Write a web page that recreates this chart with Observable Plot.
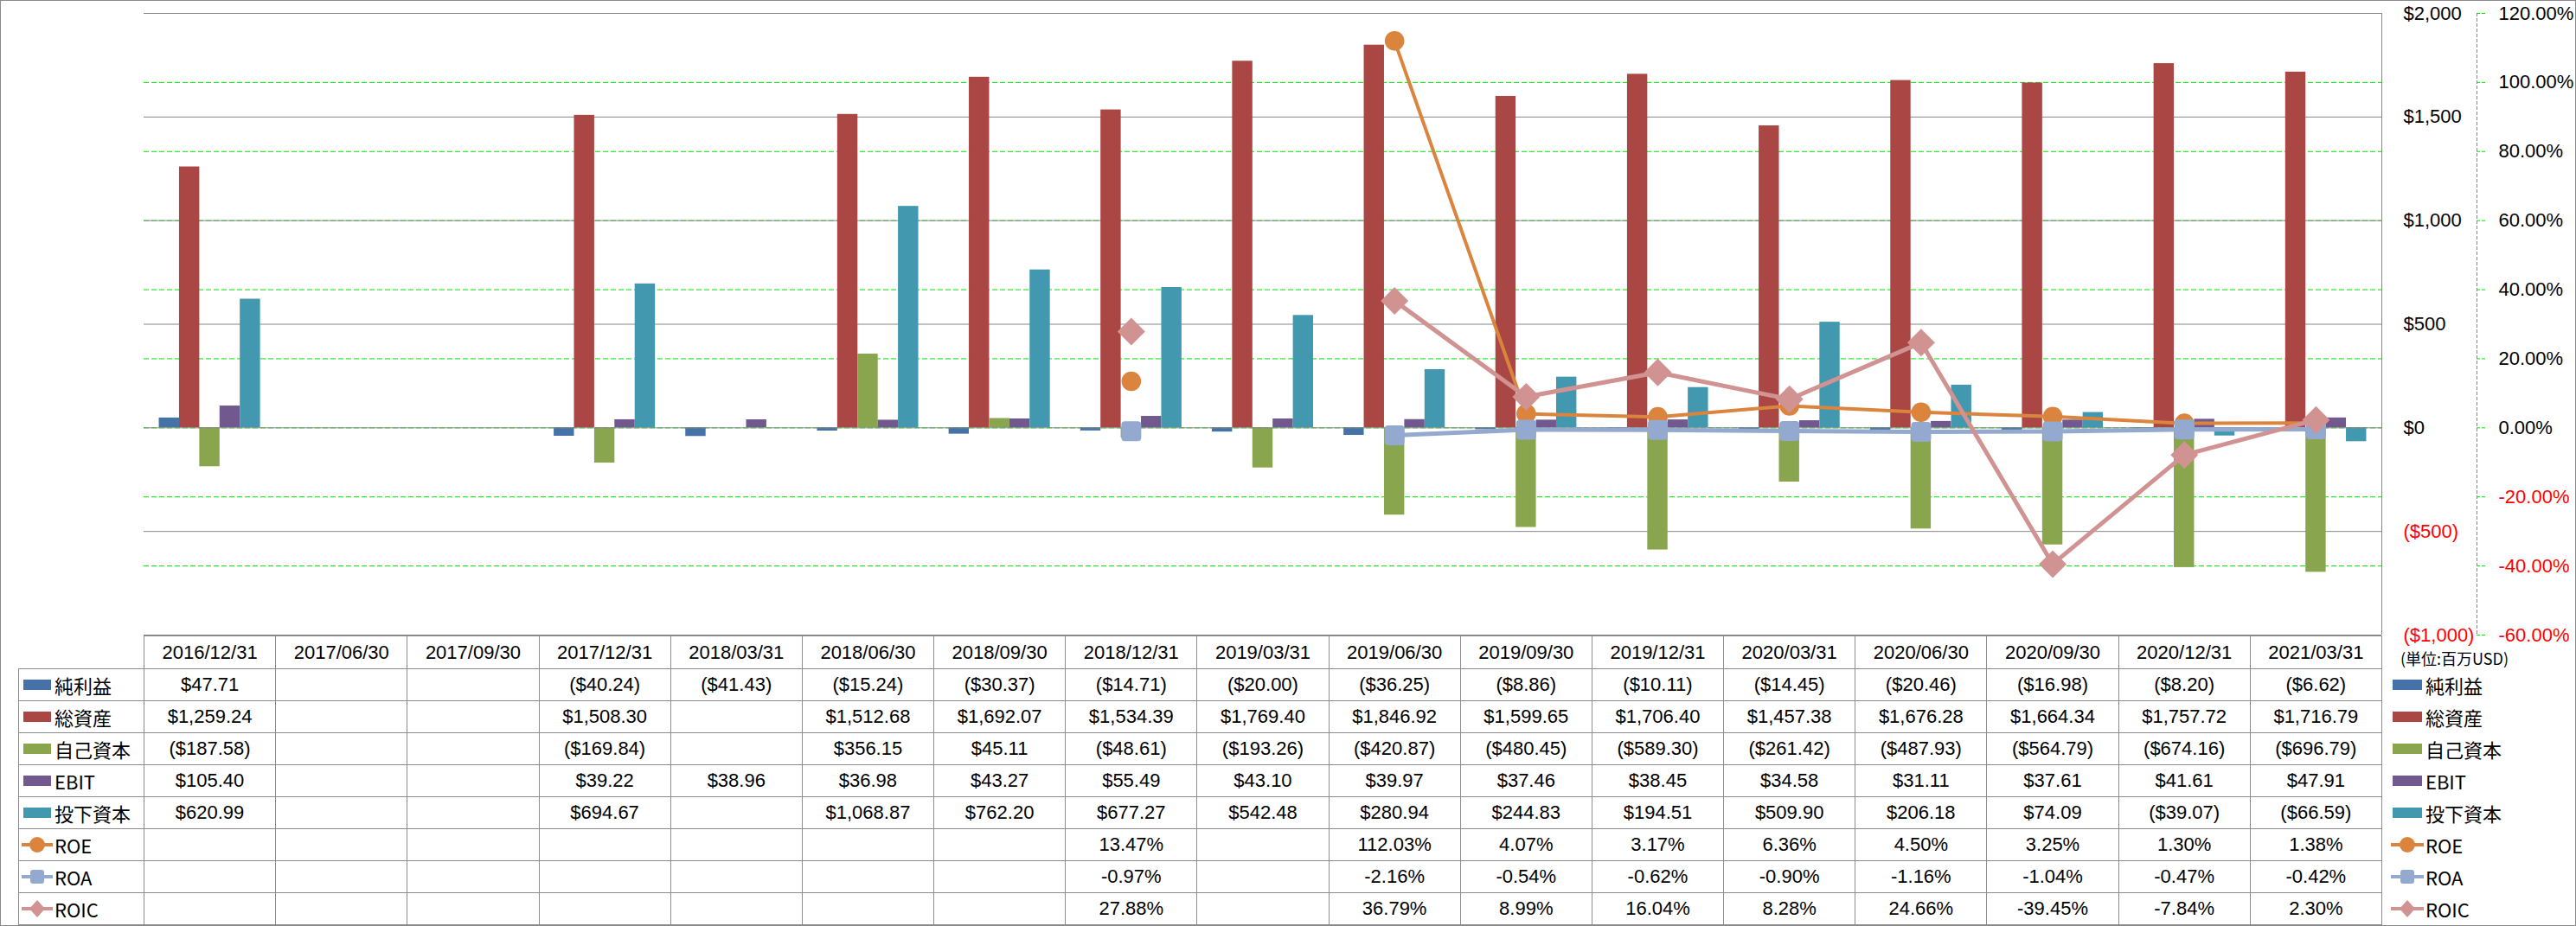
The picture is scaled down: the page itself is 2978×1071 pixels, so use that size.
<!DOCTYPE html>
<html><head><meta charset="utf-8">
<script src="https://cdn.jsdelivr.net/npm/d3@7"></script>
<script src="https://cdn.jsdelivr.net/npm/@observablehq/plot@0.6"></script>
<style>
html,body{margin:0;padding:0;background:#fff;}
#wrap{position:relative;width:2978px;height:1071px;overflow:hidden;font-family:"Liberation Sans",Arial,sans-serif;color:#000;}
#chart{position:absolute;left:0;top:0;}
#border{position:absolute;left:0;top:0;width:2978px;height:1071px;box-sizing:border-box;border:1px solid #8a8a8a;pointer-events:none;}
#tbl{position:absolute;left:21px;top:735px;border-collapse:collapse;table-layout:fixed;}
#tbl td,#tbl th{border:1px solid #8c8c8c;padding:0;font-weight:normal;font-size:22px;text-align:center;vertical-align:middle;white-space:nowrap;overflow:visible;}
#tbl tr{height:37px;}
#tbl tr.hd{height:38px;}
#tbl .corner,#tbl .leg{border:none;}
#tbl .lab{text-align:left;}
.lg{display:flex;align-items:center;font-family:"Noto Sans CJK JP","Liberation Sans",sans-serif;font-size:22px;}
.lg svg{flex:none;}
#tbl th.unit{font-family:"Noto Sans CJK JP",sans-serif;font-size:18px;line-height:1;text-align:left;vertical-align:bottom;padding:0 0 4px 21px;}
</style></head>
<body>
<div id="wrap"><div id="chart"></div><table id="tbl"></table><div id="border"></div></div>
<script>
const categories = ["2016/12/31","2017/06/30","2017/09/30","2017/12/31","2018/03/31","2018/06/30","2018/09/30","2018/12/31","2019/03/31","2019/06/30","2019/09/30","2019/12/31","2020/03/31","2020/06/30","2020/09/30","2020/12/31","2021/03/31"];
const netIncome   = [47.71,null,null,-40.24,-41.43,-15.24,-30.37,-14.71,-20.00,-36.25,-8.86,-10.11,-14.45,-20.46,-16.98,-8.20,-6.62];
const totalAssets = [1259.24,null,null,1508.30,null,1512.68,1692.07,1534.39,1769.40,1846.92,1599.65,1706.40,1457.38,1676.28,1664.34,1757.72,1716.79];
const equity      = [-187.58,null,null,-169.84,null,356.15,45.11,-48.61,-193.26,-420.87,-480.45,-589.30,-261.42,-487.93,-564.79,-674.16,-696.79];
const ebit        = [105.40,null,null,39.22,38.96,36.98,43.27,55.49,43.10,39.97,37.46,38.45,34.58,31.11,37.61,41.61,47.91];
const investedCap = [620.99,null,null,694.67,null,1068.87,762.20,677.27,542.48,280.94,244.83,194.51,509.90,206.18,74.09,-39.07,-66.59];
const roe  = [null,null,null,null,null,null,null,13.47,null,112.03,4.07,3.17,6.36,4.50,3.25,1.30,1.38];
const roa  = [null,null,null,null,null,null,null,-0.97,null,-2.16,-0.54,-0.62,-0.90,-1.16,-1.04,-0.47,-0.42];
const roic = [null,null,null,null,null,null,null,27.88,null,36.79,8.99,16.04,8.28,24.66,-39.45,-7.84,2.30];

const barNames  = ["純利益","総資産","自己資本","EBIT","投下資本"];
const barSeries = [netIncome,totalAssets,equity,ebit,investedCap];
const barColors = ["#4572A7","#AA4643","#89A54E","#71588F","#4198AF"];
const lineNames  = ["ROE","ROA","ROIC"];
const lineSeries = [roe,roa,roic];
const lineColors = ["#DB843D","#93A9CF","#D19392"];
const usdTicks = [-1000,-500,0,500,1000,1500,2000];
const pctTicks = [-60,-40,-20,0,20,40,60,80,100,120];
const unitLabel = "(単位:百万USD)";

// left axis 2000 <-> right axis 120%
const PCT_TO_USD = 2000/120;

const W = 2978, H = 745, ML = 166, MR = 225, MT = 15, MB = 11;
const frameW = W - ML - MR;
const bw = frameW / categories.length;
const barW = bw / (barSeries.length + 1.5);
const groupGap = bw - barSeries.length * barW;
const centerX = ML + frameW / 2;

const fmtMoney = v => v == null ? "" : (v < 0 ? "($" + d3.format(",.2f")(-v) + ")" : "$" + d3.format(",.2f")(v));
const fmtUsdTick = v => v < 0 ? "($" + d3.format(",")(-v) + ")" : "$" + d3.format(",")(v);
const fmtPct = v => v == null ? "" : v.toFixed(2) + "%";

const circleSym = {draw(ctx, size){const r=Math.sqrt(size/Math.PI); ctx.moveTo(r,0); ctx.arc(0,0,r,0,2*Math.PI); ctx.closePath();}};
const rsquareSym = {draw(ctx, size){const r=Math.sqrt(size/Math.PI), k=r*0.35;
  ctx.moveTo(-r+k,-r); ctx.lineTo(r-k,-r); ctx.arcTo(r,-r,r,-r+k,k); ctx.lineTo(r,r-k); ctx.arcTo(r,r,r-k,r,k);
  ctx.lineTo(-r+k,r); ctx.arcTo(-r,r,-r,r-k,k); ctx.lineTo(-r,-r+k); ctx.arcTo(-r,-r,-r+k,-r,k); ctx.closePath();}};
const diamondSym = {draw(ctx, size){const r=Math.sqrt(size/Math.PI); ctx.moveTo(0,-r); ctx.lineTo(r,0); ctx.lineTo(0,r); ctx.lineTo(-r,0); ctx.closePath();}};
const lineSyms = [circleSym, rsquareSym, diamondSym];
const lineR = [11.3, 11.5, 16];
const lineW = [4, 5, 5];

const GREEN = "#00e400", GRAY = "#868686";

const marks = [];
// green dashed percentage gridlines
marks.push(Plot.ruleY(pctTicks.map(p => p*PCT_TO_USD), {y: d => d, stroke: GREEN, strokeWidth: 1, strokeDasharray: "6,3"}));
// gray dollar gridlines
marks.push(Plot.ruleY(usdTicks.filter(d => d !== 0), {y: d => d, stroke: GRAY, strokeWidth: 1}));
// bars
barSeries.forEach((s, i) => {
  const data = categories.map((c, j) => ({cat: c, v: s[j]})).filter(d => d.v != null);
  const il = groupGap/2 + i*barW;
  marks.push(Plot.rectY(data, {x: "cat", y1: 0, y2: "v", fill: barColors[i], insetLeft: il, insetRight: bw - il - barW}));
});
// zero axis line
marks.push(Plot.ruleY([0], {stroke: GRAY, strokeWidth: 1}));
// plot area right edge
marks.push(Plot.ruleX([0], {x: null, stroke: GRAY, strokeWidth: 1, dx: ML + frameW - centerX}));
// secondary axis green line and ticks
marks.push(Plot.ruleX([0], {x: null, stroke: GREEN, strokeWidth: 1, strokeDasharray: "4,2", dx: 2863 - centerX}));
marks.push(Plot.ruleY(pctTicks.map(p => p*PCT_TO_USD), {y: d => d, stroke: GREEN, strokeWidth: 1, strokeDasharray: "4,2", insetLeft: frameW - 10, dx: 2863 - (ML + frameW - 10)}));
// lines
lineSeries.forEach((s, i) => {
  const data = categories.map((c, j) => ({cat: c, v: s[j] == null ? NaN : s[j]*PCT_TO_USD}));
  marks.push(Plot.line(data, {x: "cat", y: "v", stroke: lineColors[i], strokeWidth: lineW[i]}));
  marks.push(Plot.dot(data.filter(d => !isNaN(d.v)), {x: "cat", y: "v", r: lineR[i], symbol: lineSyms[i], fill: lineColors[i], stroke: "none"}));
});
// axis labels
marks.push(Plot.text(usdTicks.filter(d => d >= 0), {y: d => d, text: fmtUsdTick, frameAnchor: "right", dx: 25, textAnchor: "start", fill: "#000", fontSize: 22}));
marks.push(Plot.text(usdTicks.filter(d => d < 0), {y: d => d, text: fmtUsdTick, frameAnchor: "right", dx: 25, textAnchor: "start", fill: "#ff0000", fontSize: 22}));
marks.push(Plot.text(pctTicks.filter(d => d >= 0), {y: d => d*PCT_TO_USD, text: d => d.toFixed(2) + "%", frameAnchor: "right", dx: 135, textAnchor: "start", fill: "#000", fontSize: 22}));
marks.push(Plot.text(pctTicks.filter(d => d < 0), {y: d => d*PCT_TO_USD, text: d => d.toFixed(2) + "%", frameAnchor: "right", dx: 135, textAnchor: "start", fill: "#ff0000", fontSize: 22}));

const chart = Plot.plot({
  width: W, height: H,
  marginLeft: ML, marginRight: MR, marginTop: MT, marginBottom: MB,
  style: {fontFamily: '"Liberation Sans", Arial, sans-serif', fontSize: "22px", background: "transparent", overflow: "visible"},
  x: {type: "band", domain: categories, padding: 0, round: false, axis: null},
  y: {domain: [-1000, 2000], axis: null},
  marks
});
document.getElementById("chart").appendChild(chart);

// data table
function swatchBar(color, w){ return `<svg width="${w}" height="24"><rect x="2" y="6" width="${w-4}" height="12" fill="${color}"/></svg>`; }
function swatchLine(i, w){
  const c = lineColors[i], cx = w/2, cy = 12;
  let m;
  if (i === 0) m = `<circle cx="${cx}" cy="${cy}" r="9" fill="${c}"/>`;
  else if (i === 1) m = `<rect x="${cx-8}" y="${cy-8}" width="16" height="16" rx="3" fill="${c}"/>`;
  else m = `<path d="M${cx},${cy-10}L${cx+9},${cy}L${cx},${cy+10}L${cx-9},${cy}Z" fill="${c}"/>`;
  return `<svg width="${w}" height="24"><line x1="0" x2="${w}" y1="${cy}" y2="${cy}" stroke="${c}" stroke-width="4"/>${m}</svg>`;
}
const tbl = document.getElementById("tbl");
let html = `<colgroup><col style="width:145px">` + categories.map(() => `<col style="width:${bw}px">`).join("") + `<col style="width:${W - ML - frameW}px"></colgroup>`;
html += `<tr class="hd"><th class="corner"></th>` + categories.map(c => `<th>${c}</th>`).join("") + `<th class="leg unit">${unitLabel}</th></tr>`;
barSeries.forEach((s, i) => {
  html += `<tr><td class="lab"><div class="lg" style="padding-left:3px">${swatchBar(barColors[i], 36)}<span style="margin-left:2px">${barNames[i]}</span></div></td>`;
  html += s.map(v => `<td>${fmtMoney(v)}</td>`).join("");
  html += `<td class="leg lab"><div class="lg" style="padding-left:10px">${swatchBar(barColors[i], 38)}<span style="margin-left:2px">${barNames[i]}</span></div></td></tr>`;
});
lineSeries.forEach((s, i) => {
  html += `<tr><td class="lab"><div class="lg" style="padding-left:3px">${swatchLine(i, 36)}<span style="margin-left:2px">${lineNames[i]}</span></div></td>`;
  html += s.map(v => `<td>${fmtPct(v)}</td>`).join("");
  html += `<td class="leg lab"><div class="lg" style="padding-left:10px">${swatchLine(i, 38)}<span style="margin-left:2px">${lineNames[i]}</span></div></td></tr>`;
});
tbl.style.width = (W - 21) + "px";
tbl.innerHTML = html;
</script>
</body></html>
